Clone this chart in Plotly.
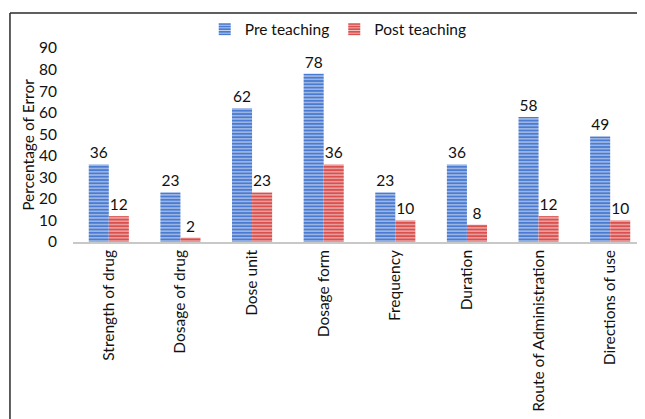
import plotly.graph_objects as go

categories = ["Strength of drug", "Dosage of drug", "Dose unit", "Dosage form",
              "Frequency", "Duration", "Route of Administration", "Directions of use"]
pre_teaching = [36, 23, 62, 78, 23, 36, 58, 49]
post_teaching = [12, 2, 23, 36, 10, 8, 12, 10]
y_ticks = [0, 10, 20, 30, 40, 50, 60, 70, 80, 90]

FONT = "Lato"
BLUE = "#4a7bd0"
RED = "#d9504e"

fig = go.Figure()
fig.add_trace(go.Bar(
    x=categories, y=pre_teaching, name="Pre teaching",
    text=pre_teaching, textposition="outside", cliponaxis=False,
    textfont=dict(size=15.5, color="#111", family=FONT),
    marker=dict(color=BLUE, line=dict(width=0),
                pattern=dict(shape="-", fgcolor="#cfdcf3", bgcolor=BLUE,
                             size=3.3, solidity=0.3, fillmode="replace")),
))
fig.add_trace(go.Bar(
    x=categories, y=post_teaching, name="Post teaching",
    text=post_teaching, textposition="outside", cliponaxis=False,
    textfont=dict(size=15.5, color="#111", family=FONT),
    marker=dict(color=RED, line=dict(width=0),
                pattern=dict(shape="-", fgcolor="#f3d0cf", bgcolor=RED,
                             size=3.3, solidity=0.3, fillmode="replace")),
))

fig.update_layout(
    width=645, height=419,
    margin=dict(l=65, r=7, t=40, b=185, autoexpand=False),
    paper_bgcolor="white", plot_bgcolor="white",
    font=dict(family=FONT, size=15.5, color="#111"),
    barmode="group", bargap=0.44, bargroupgap=0,
    showlegend=True,
    legend=dict(orientation="h", x=0.305, xref="container", xanchor="left",
                y=0.989, yref="container", yanchor="top",
                bgcolor="rgba(0,0,0,0)",
                font=dict(size=15.5, family=FONT), itemwidth=30,
                traceorder="normal", tracegroupgap=0),
    xaxis=dict(tickangle=-90, showline=True, linecolor="#c8c8c8", linewidth=1.5,
               ticks="", showgrid=False, automargin=False,
               tickfont=dict(size=15.5, family=FONT)),
    yaxis=dict(range=[0, 90], tickvals=y_ticks, showgrid=False, zeroline=False,
               showline=False, ticks="", ticklabelstandoff=15, automargin=False,
               tickfont=dict(size=15.5, family=FONT),
               title=dict(text="Percentage of Error", standoff=0,
                          font=dict(size=15.5, family=FONT))),
    shapes=[
        dict(type="line", xref="paper", yref="paper", x0=-0.11, x1=1.0,
             y0=1.18, y1=1.18, line=dict(color="#2a2a2a", width=1.5), layer="above"),
        dict(type="line", xref="paper", yref="paper", x0=-0.11, x1=-0.11,
             y0=1.18, y1=-0.93, line=dict(color="#2a2a2a", width=1.5), layer="above"),
    ],
)

fig.write_html("out.html")
